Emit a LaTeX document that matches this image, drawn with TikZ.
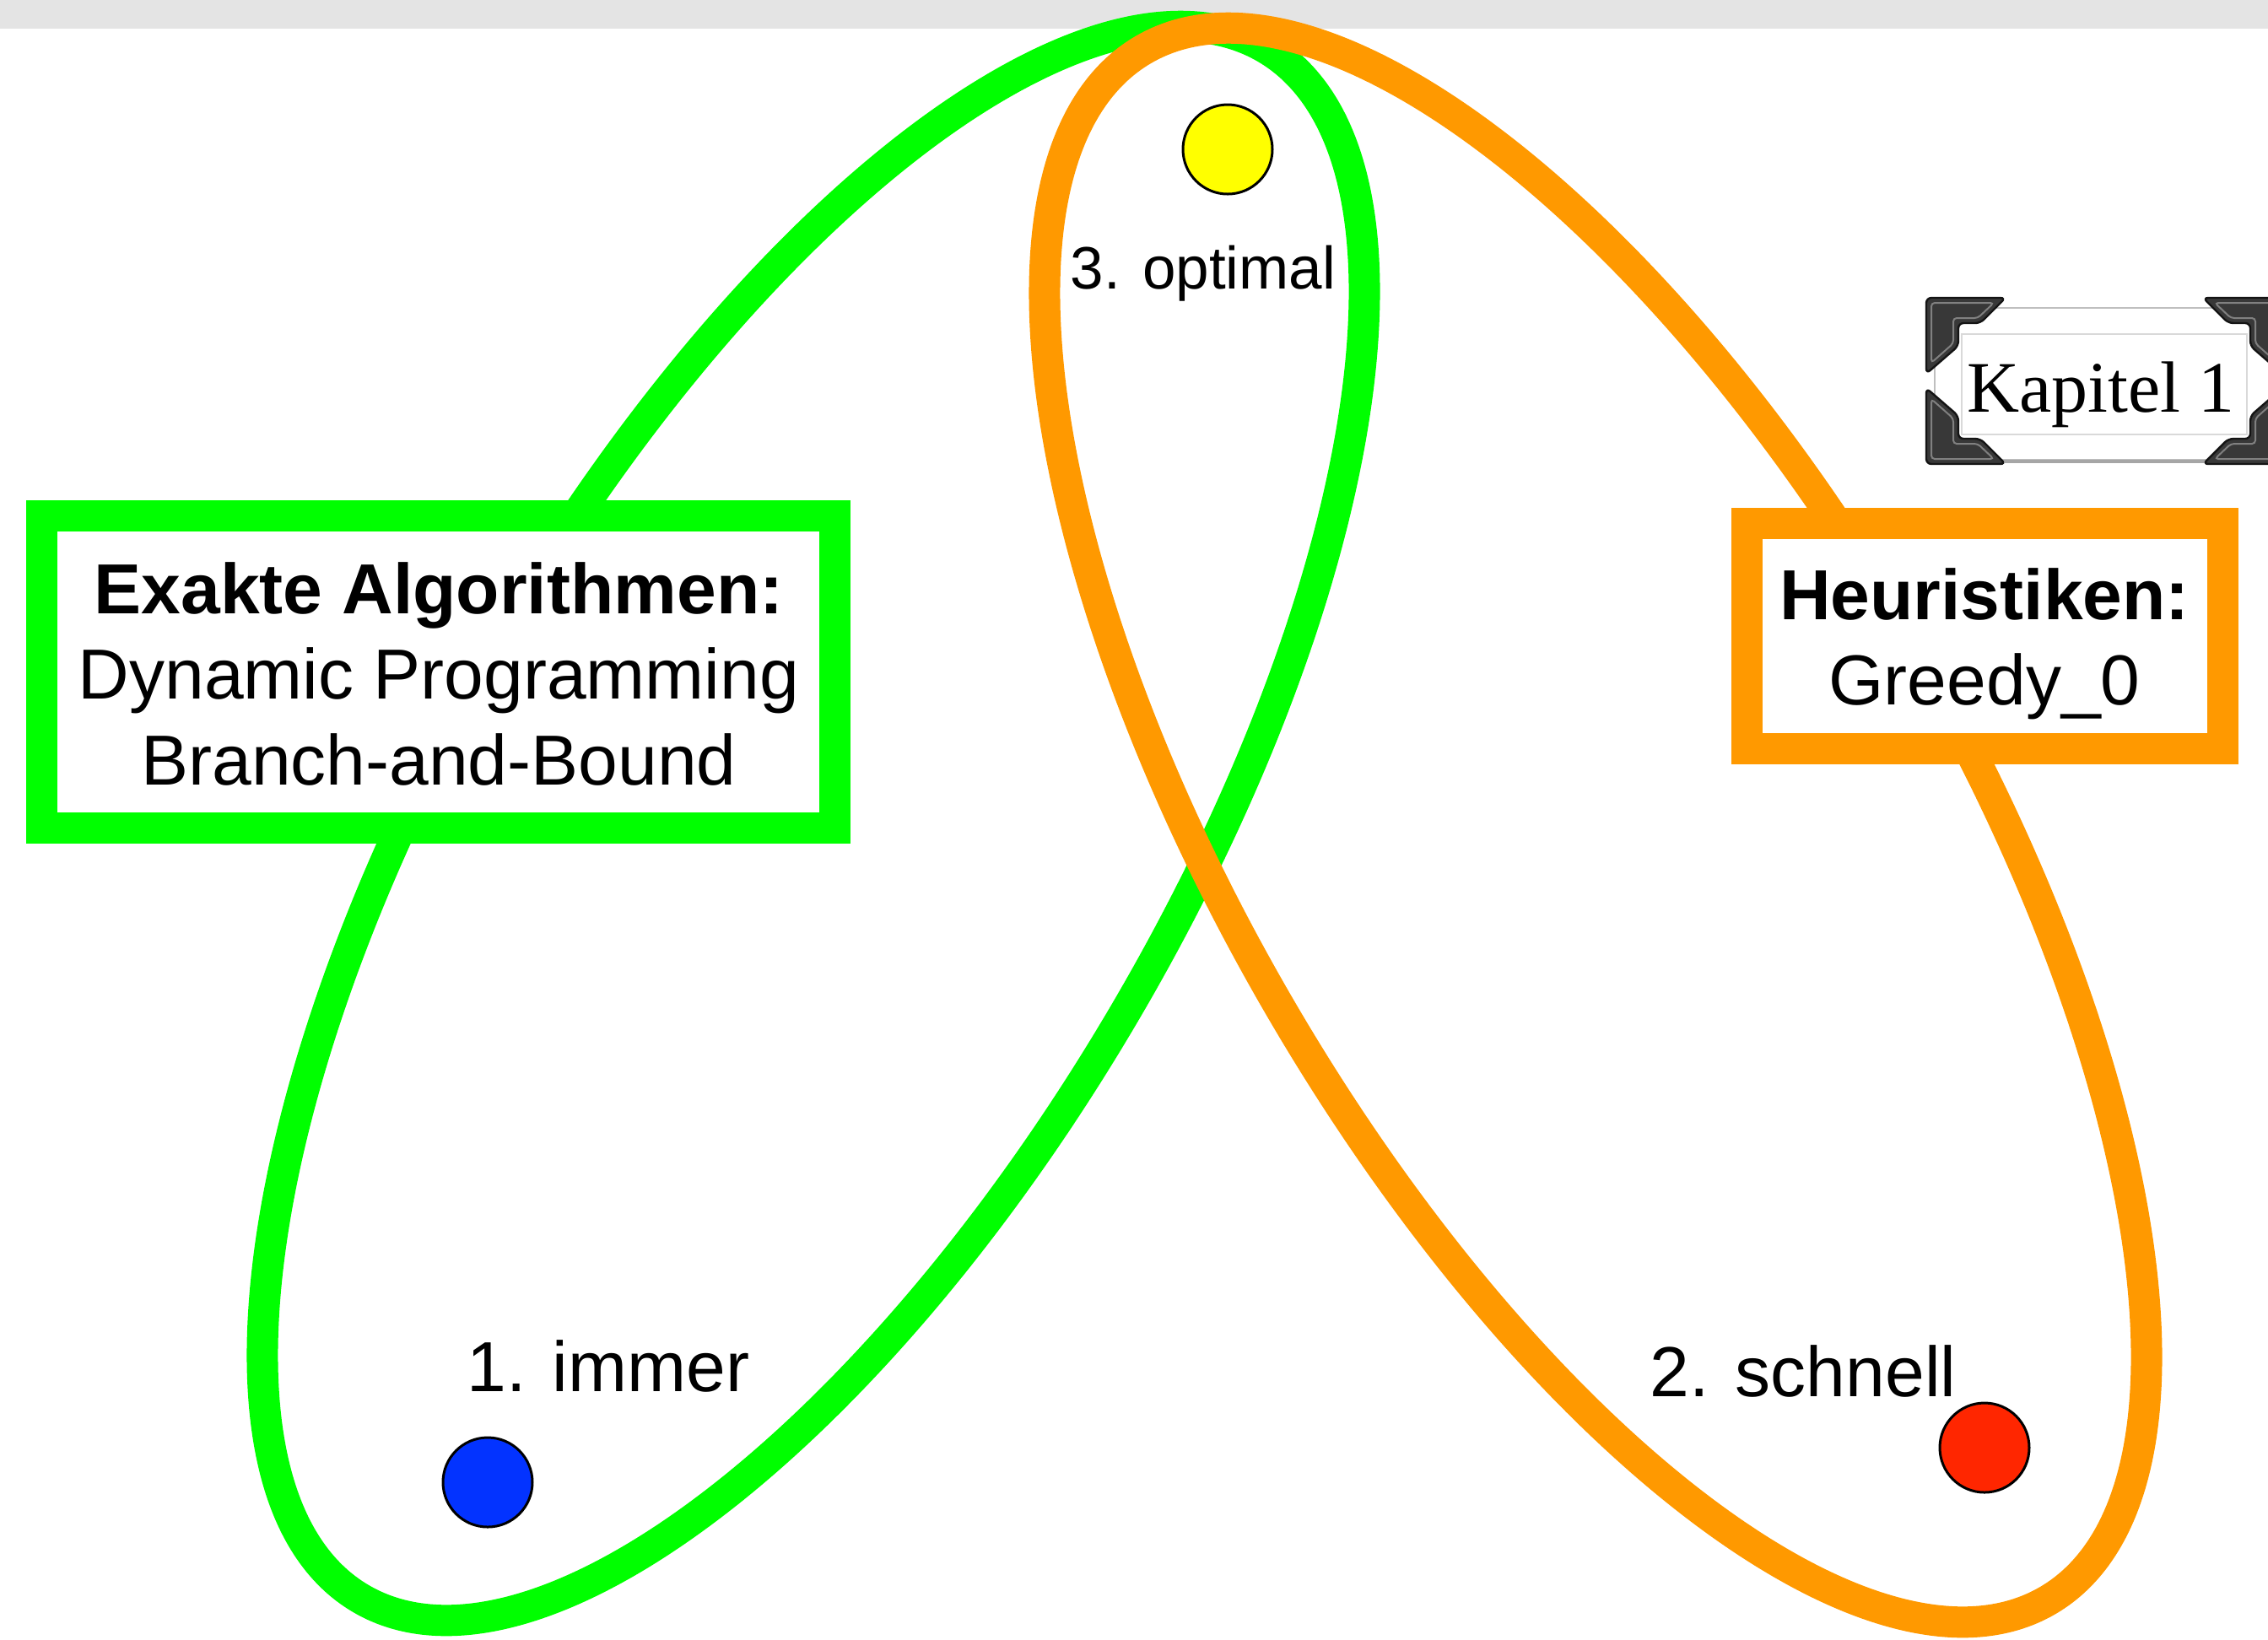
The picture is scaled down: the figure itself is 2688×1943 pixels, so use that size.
\documentclass[tikz,border=0pt]{standalone}
\usepackage{fontspec}
\setmainfont{Liberation Sans}
\newfontfamily\serifk{Liberation Serif}
\definecolor{cgreen}{RGB}{0,255,0}
\definecolor{corange}{RGB}{255,153,0}
\definecolor{cblue}{RGB}{3,51,255}
\definecolor{cred}{RGB}{255,38,0}
\definecolor{cyellow}{RGB}{255,255,0}
\definecolor{cbar}{RGB}{228,228,228}
\begin{document}
\begin{tikzpicture}[x=0.25pt,y=-0.25pt,
  ring/.style={line width=9.25pt},
  boxs/.style={draw, line width=9.25pt, fill=white, inner sep=0pt},
  txt/.style={inner sep=0pt, font=\fontsize{21}{25}\selectfont},
  dot/.style={circle, draw=black, line width=0.75pt, minimum size=26.5pt, inner sep=0pt},
  orn/.style={fill=black!78, draw=black!92, line width=0.6pt, rounded corners=1.5pt},
  ornin/.style={draw=black!50, line width=0.5pt, rounded corners=1pt}
]
\path[use as bounding box] (0,0) rectangle (2688,1943);
\clip (0,0) rectangle (2688,1943);
\fill[white] (0,0) rectangle (2688,1943);
\fill[cbar] (0,0) rectangle (2688,34);

% sets
\draw[ring, cgreen, rotate around={59.76:(964,976)}] (964,976) ellipse [x radius=266pt, y radius=108pt];
\draw[ring, corange, rotate around={-59.76:(1891,978)}] (1891,978) ellipse [x radius=266pt, y radius=108pt];

% boxes
\node[boxs, draw=cgreen, minimum width=235pt, minimum height=92.5pt] (exact) at (519.5,796.5) {};
\node[boxs, draw=corange, minimum width=141pt, minimum height=66.75pt] (heur) at (2352,753.5) {};
\node[txt, anchor=base] (ex1) at (520,727) {\textbf{Exakte Algorithmen:}};
\node[txt, anchor=base] (ex2) at (520,828) {Dynamic Programming};
\node[txt, anchor=base] (ex3) at (520,930) {Branch-and-Bound};
\node[txt, anchor=base] (he1) at (2352,734) {\textbf{Heuristiken:}};
\node[txt, anchor=base] (he2) at (2352,835) {Greedy\_0};

% dots
\node[dot, fill=cyellow] (yel) at (1455,177) {};
\node[dot, fill=cblue] (blu) at (578,1757) {};
\node[dot, fill=cred] (red) at (2352,1716) {};

% labels
\node[txt, anchor=base west] (l1) at (553,1649) {1. immer};
\node[txt, anchor=base west] (l2) at (1955,1655) {2. schnell};
\node[inner sep=0pt, anchor=base west, font=\fontsize{17.75}{20}\selectfont] (l3) at (1268,342) {3. optimal};

% Kapitel frame
\fill[white] (2293,365) rectangle (2700,545);
\draw[black!25, line width=0.5pt] (2293,365) rectangle (2700,545);
\draw[black!35, line width=1pt] (2295,547) -- (2700,547);
\draw[black!15, line width=0.4pt] (2325,396) rectangle (2663,515);
\foreach \px/\py/\sx/\sy in {2283/353/1/1, 2283/550/1/-1, 2705/353/-1/1, 2705/550/-1/-1} {
  \path[orn, shift={(\px,\py)}, xscale=\sx, yscale=\sy] (0,0) -- (94,0) -- (64,30) -- (38,30) -- (38,57) -- (0,90) -- cycle;
  \path[ornin, shift={(\px,\py)}, xscale=\sx, yscale=\sy] (6,6) -- (80,6) -- (61,24) -- (32,24) -- (32,54) -- (6,77) -- cycle;
}
\node[inner sep=0pt, anchor=base, font=\serifk\fontsize{21.5}{24}\selectfont] (kap) at (2490,488) {Kapitel 1};
\end{tikzpicture}
\end{document}
